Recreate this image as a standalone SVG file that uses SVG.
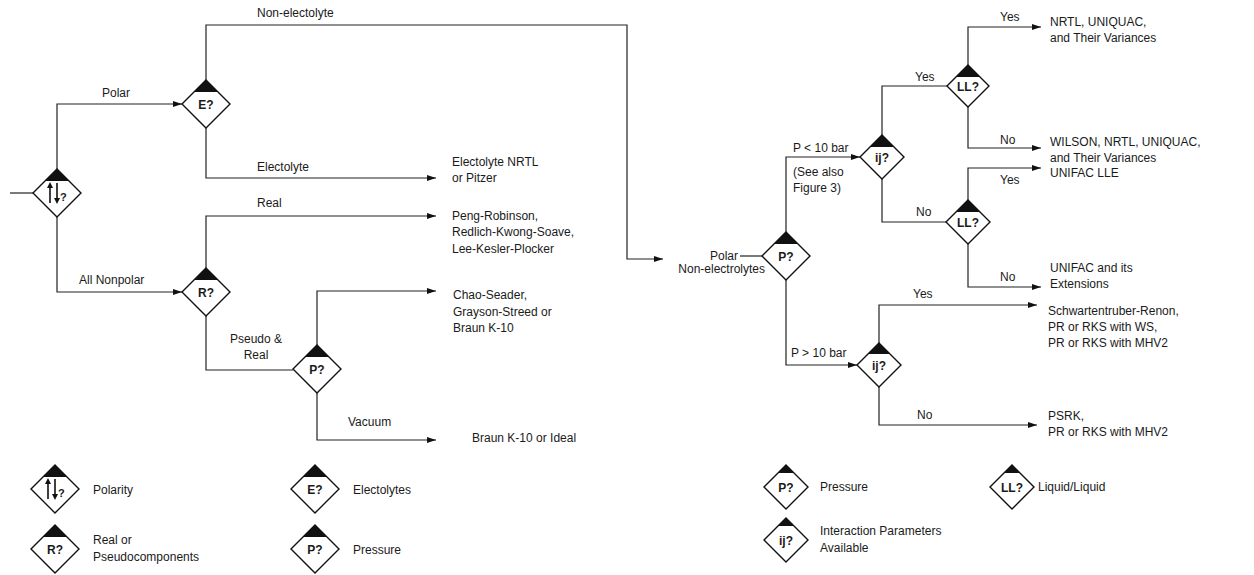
<svg xmlns="http://www.w3.org/2000/svg" width="1254" height="575" viewBox="0 0 1254 575">
<defs>
<marker id="ar" markerUnits="userSpaceOnUse" markerWidth="9" markerHeight="7" refX="9" refY="3.5" orient="auto"><path d="M0,0.5 L9,3.5 L0,6.5 z" fill="#111"/></marker>
</defs>
<style>
text{font-family:"Liberation Sans",Arial,sans-serif;font-size:12px;fill:#1a1a1a}
.dl{font-weight:bold;text-anchor:middle;font-size:12px}
.d{fill:#fff;stroke:#111;stroke-width:1.4}
.cap{fill:#111}
.c{fill:none;stroke:#222;stroke-width:1.2}
.ca{fill:none;stroke:#222;stroke-width:1.2;marker-end:url(#ar)}
.m{text-anchor:middle}
.e{text-anchor:end}
</style>
<rect width="1254" height="575" fill="#fff"/>

<g id="connectors">
<path class="c" d="M10 193 H33"/>
<path class="ca" d="M57 169 V104 H182"/>
<path class="ca" d="M57 217 V292 H182"/>
<path class="ca" d="M206 80 V25 H627 V259 H663"/>
<path class="ca" d="M206 128 V178 H436"/>
<path class="ca" d="M206 268 V216 H436"/>
<path class="c" d="M206 316 V370 H293"/>
<path class="ca" d="M317 345 V291 H436"/>
<path class="ca" d="M317 393 V440 H436"/>
<path class="c" d="M740 256 H762"/>
<path class="ca" d="M786 232 V157 H860"/>
<path class="ca" d="M786 280 V365 H857"/>
<path class="c" d="M882 135 V86 H947"/>
<path class="c" d="M882 179 V222 H946"/>
<path class="ca" d="M968 65 V27 H1041"/>
<path class="ca" d="M968 107 V148 H1041"/>
<path class="ca" d="M968 200 V168 H1041"/>
<path class="ca" d="M968 244 V287 H1041"/>
<path class="ca" d="M879 343 V305 H1037"/>
<path class="ca" d="M879 387 V425 H1037"/>
</g>

<g id="edge-labels">
<text x="257" y="17">Non-electolyte</text>
<text x="102" y="97">Polar</text>
<text x="257" y="171">Electolyte</text>
<text x="257" y="207">Real</text>
<text x="79" y="284">All Nonpolar</text>
<text class="m" x="256" y="343">Pseudo &amp;</text>
<text class="m" x="256" y="359">Real</text>
<text x="348" y="426">Vacuum</text>
<text class="e" x="738" y="260">Polar</text>
<text class="e" x="765" y="273">Non-electrolytes</text>
<text x="793" y="152">P &lt; 10 bar</text>
<text x="793" y="176">(See also</text>
<text x="793" y="192">Figure 3)</text>
<text x="791" y="357">P &gt; 10 bar</text>
<text x="915" y="81">Yes</text>
<text x="916" y="216">No</text>
<text x="1000" y="21">Yes</text>
<text x="1000" y="144">No</text>
<text x="1000" y="184">Yes</text>
<text x="1000" y="281">No</text>
<text x="913" y="298">Yes</text>
<text x="917" y="419">No</text>
</g>

<g id="n-polarity">
<polygon class="d" points="57,169 81,193 57,217 33,193"/>
<polygon class="cap" points="57,169 45,181 69,181"/>
<path d="M50 203 V186 M57 183 V200" stroke="#111" stroke-width="1.6"/>
<polygon points="50,182 47,188 53,188" fill="#111"/>
<polygon points="57,204 54,198 60,198" fill="#111"/>
<text x="60" y="201" style="font-size:11px;font-weight:bold">?</text>
</g>
<g id="n-e"><polygon class="d" points="206,80 230,104 206,128 182,104"/><polygon class="cap" points="206,80 194,92 218,92"/><text class="dl" x="206" y="109">E?</text></g>
<g id="n-r"><polygon class="d" points="206,268 230,292 206,316 182,292"/><polygon class="cap" points="206,268 194,280 218,280"/><text class="dl" x="206" y="297">R?</text></g>
<g id="n-p1"><polygon class="d" points="317,345 341,369 317,393 293,369"/><polygon class="cap" points="317,345 305,357 329,357"/><text class="dl" x="317" y="374">P?</text></g>

<g id="n-p2"><polygon class="d" points="786,232 810,256 786,280 762,256"/><polygon class="cap" points="786,232 774,244 798,244"/><text class="dl" x="786" y="261">P?</text></g>
<g id="n-ij1"><polygon class="d" points="882,135 904,157 882,179 860,157"/><polygon class="cap" points="882,135 870,147 894,147"/><text class="dl" x="882" y="162">ij?</text></g>
<g id="n-ll1"><polygon class="d" points="968,65 989,86 968,107 947,86"/><polygon class="cap" points="968,65 956,77 980,77"/><text class="dl" x="968" y="91">LL?</text></g>
<g id="n-ll2"><polygon class="d" points="968,200 990,222 968,244 946,222"/><polygon class="cap" points="968,200 956,212 980,212"/><text class="dl" x="968" y="227">LL?</text></g>
<g id="n-ij2"><polygon class="d" points="879,343 901,365 879,387 857,365"/><polygon class="cap" points="879,343 868,354 890,354"/><text class="dl" x="879" y="370">ij?</text></g>

<g id="r-electrolyte"><text x="452" y="166">Electolyte NRTL</text><text x="452" y="182">or Pitzer</text></g>
<g id="r-real"><text x="452" y="220">Peng-Robinson,</text><text x="452" y="236">Redlich-Kwong-Soave,</text><text x="452" y="253">Lee-Kesler-Plocker</text></g>
<g id="r-chao"><text x="453" y="299">Chao-Seader,</text><text x="453" y="316">Grayson-Streed or</text><text x="453" y="332">Braun K-10</text></g>
<g id="r-vacuum"><text x="472" y="442">Braun K-10 or Ideal</text></g>
<g id="r-nrtl"><text x="1050" y="26">NRTL, UNIQUAC,</text><text x="1050" y="42">and Their Variances</text></g>
<g id="r-wilson"><text x="1050" y="146">WILSON, NRTL, UNIQUAC,</text><text x="1050" y="162">and Their Variances</text></g>
<g id="r-unifaclle"><text x="1050" y="177">UNIFAC LLE</text></g>
<g id="r-unifac"><text x="1050" y="272">UNIFAC and its</text><text x="1050" y="288">Extensions</text></g>
<g id="r-schw"><text x="1048" y="315">Schwartentruber-Renon,</text><text x="1048" y="331">PR or RKS with WS,</text><text x="1048" y="347">PR or RKS with MHV2</text></g>
<g id="r-psrk"><text x="1048" y="420">PSRK,</text><text x="1048" y="436">PR or RKS with MHV2</text></g>

<g id="legend-polarity">
<polygon class="d" points="55,465 79,489 55,513 31,489"/>
<polygon class="cap" points="55,465 43,477 67,477"/>
<path d="M48 499 V482 M55 479 V496" stroke="#111" stroke-width="1.6"/>
<polygon points="48,478 45,484 51,484" fill="#111"/>
<polygon points="55,500 52,494 58,494" fill="#111"/>
<text x="58" y="497" style="font-size:11px;font-weight:bold">?</text>
<text x="93" y="494">Polarity</text>
</g>
<g id="legend-e"><polygon class="d" points="315,465 339,489 315,513 291,489"/><polygon class="cap" points="315,465 303,477 327,477"/><text class="dl" x="315" y="494">E?</text><text x="353" y="494">Electolytes</text></g>
<g id="legend-r"><polygon class="d" points="55,525 79,549 55,573 31,549"/><polygon class="cap" points="55,525 43,537 67,537"/><text class="dl" x="55" y="554">R?</text><text x="93" y="544">Real or</text><text x="93" y="561">Pseudocomponents</text></g>
<g id="legend-p1"><polygon class="d" points="315,525 339,549 315,573 291,549"/><polygon class="cap" points="315,525 303,537 327,537"/><text class="dl" x="315" y="554">P?</text><text x="353" y="554">Pressure</text></g>
<g id="legend-p2"><polygon class="d" points="786,465 808,487 786,509 764,487"/><polygon class="cap" points="786,465 778,473 794,473"/><text class="dl" x="786" y="492">P?</text><text x="820" y="491">Pressure</text></g>
<g id="legend-ll"><polygon class="d" points="1012,465 1034,487 1012,509 990,487"/><polygon class="cap" points="1012,465 1004,473 1020,473"/><text class="dl" x="1012" y="492">LL?</text><text x="1038" y="491">Liquid/Liquid</text></g>
<g id="legend-ij"><polygon class="d" points="786,518 808,540 786,562 764,540"/><polygon class="cap" points="786,518 778,526 794,526"/><text class="dl" x="786" y="545">ij?</text><text x="820" y="535">Interaction Parameters</text><text x="820" y="552">Available</text></g>
</svg>
